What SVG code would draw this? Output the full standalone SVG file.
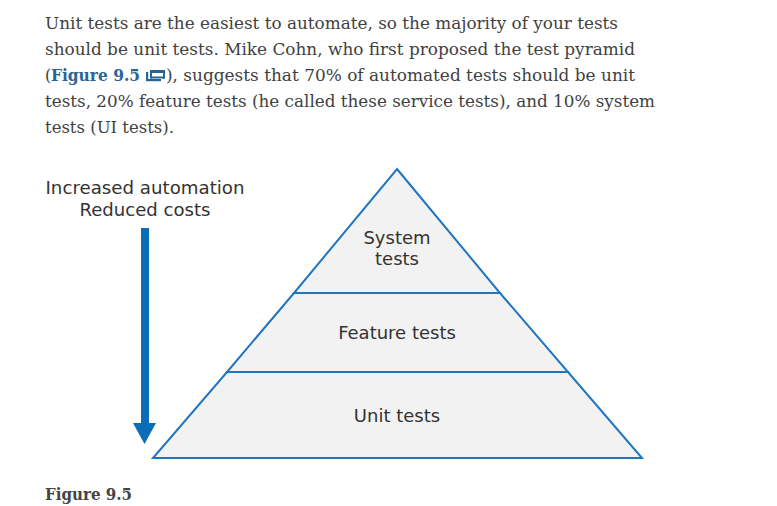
<svg xmlns="http://www.w3.org/2000/svg" width="777" height="506" viewBox="0 0 777 506">
  <style>
    .para { font-family: "DejaVu Serif", "Liberation Serif", serif; font-size: 16px; fill: #414141; }
    .link { font-weight: bold; fill: #2a6496; }
    .cap { font-family: "DejaVu Serif", "Liberation Serif", serif; font-size: 16px; font-weight: bold; fill: #444444; }
    .lbl { font-family: "DejaVu Sans", Verdana, sans-serif; font-size: 18px; fill: #333333; text-anchor: middle; }
    .tier { fill: #f2f2f2; stroke: #1f75c0; stroke-width: 2; stroke-linejoin: miter; }
  </style>

  <rect width="777" height="506" fill="#ffffff"/>

  <!-- body paragraph -->
  <g id="paragraph">
    <text class="para" x="45" y="29" textLength="573" lengthAdjust="spacingAndGlyphs">Unit tests are the easiest to automate, so the majority of your tests</text>
    <text class="para" x="45" y="55" textLength="590" lengthAdjust="spacingAndGlyphs">should be unit tests. Mike Cohn, who first proposed the test pyramid</text>
    <text class="para" x="45" y="81">(</text>
    <text class="para link" x="51" y="81" textLength="89" lengthAdjust="spacingAndGlyphs">Figure 9.5</text>
    <!-- link icon -->
    <g id="link-icon" fill="#2a6496">
      <rect x="146" y="72" width="2.2" height="9"/>
      <rect x="146" y="79" width="15" height="2.2"/>
      <rect x="150" y="70" width="15" height="3"/>
      <rect x="150" y="70" width="2" height="8.5"/>
      <rect x="163" y="70" width="2" height="8.5"/>
      <rect x="150" y="76.5" width="15" height="2"/>
    </g>
    <text class="para" x="166" y="81" textLength="469" lengthAdjust="spacingAndGlyphs">), suggests that 70% of automated tests should be unit</text>
    <text class="para" x="45" y="107" textLength="610" lengthAdjust="spacingAndGlyphs">tests, 20% feature tests (he called these service tests), and 10% system</text>
    <text class="para" x="45" y="133" textLength="129" lengthAdjust="spacingAndGlyphs">tests (UI tests).</text>
  </g>

  <!-- direction arrow with caption -->
  <g id="automation-arrow">
    <text class="lbl" x="145" y="194" textLength="199" lengthAdjust="spacingAndGlyphs">Increased automation</text>
    <text class="lbl" x="145" y="216" textLength="131" lengthAdjust="spacingAndGlyphs">Reduced costs</text>
    <rect x="141" y="228" width="8" height="197" fill="#0b6cb8"/>
    <polygon points="133,423 156,423 144.5,444" fill="#0b6cb8"/>
  </g>

  <!-- pyramid tiers -->
  <g id="tier-unit">
    <polygon class="tier" points="227,372 568,372 642,458 153,458"/>
    <text class="lbl" x="397" y="422">Unit tests</text>
  </g>
  <g id="tier-feature">
    <polygon class="tier" points="294,293 500,293 568,372 227,372"/>
    <text class="lbl" x="397" y="339">Feature tests</text>
  </g>
  <g id="tier-system">
    <polygon class="tier" points="397,169 500,293 294,293"/>
    <text class="lbl" x="397" y="244">System</text>
    <text class="lbl" x="397" y="265">tests</text>
  </g>

  <!-- caption -->
  <text class="cap" x="45" y="500" textLength="87" lengthAdjust="spacingAndGlyphs">Figure 9.5</text>
</svg>
